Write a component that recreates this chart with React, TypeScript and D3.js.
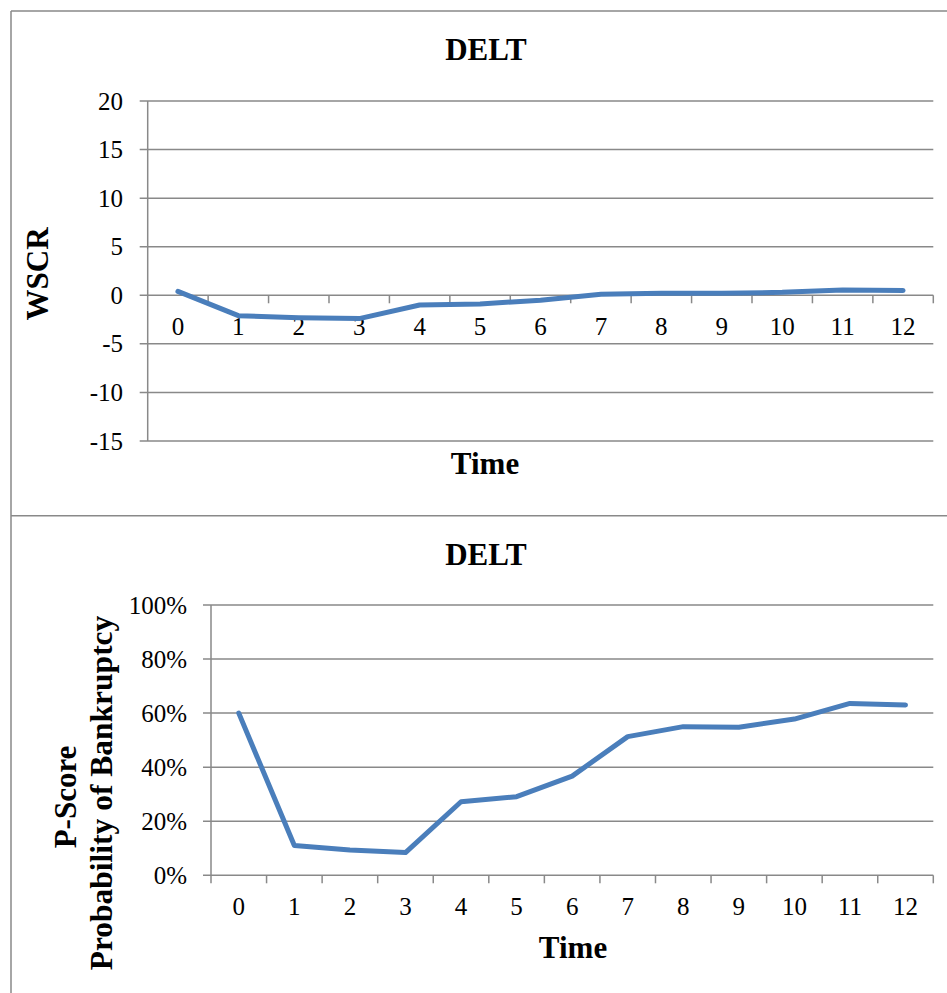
import React from "react";
import * as d3 from "d3";

// Time periods shared by both panels
const periods = ["0", "1", "2", "3", "4", "5", "6", "7", "8", "9", "10", "11", "12"];

// WSCR by period
const wscrValues = [0.4, -2.1, -2.3, -2.4, -1.0, -0.9, -0.5, 0.1, 0.2, 0.2, 0.3, 0.55, 0.5];
const wscrTicks = [20, 15, 10, 5, 0, -5, -10, -15];

// P-Score (probability of bankruptcy) by period
const pScoreValues = [0.60, 0.11, 0.094, 0.084, 0.272, 0.291, 0.367, 0.513, 0.55, 0.548, 0.578, 0.636, 0.63];
const pScoreTicks = [0, 0.2, 0.4, 0.6, 0.8, 1.0];

const FONT = "'Liberation Serif', 'Times New Roman', Times, serif";
const GRID = "#898989";
const LINE = "#4A7EBB";

export default function App() {
  // Top panel scales
  const x1 = d3.scaleBand<string>().domain(periods).range([147.7, 933.3]).padding(0);
  const y1 = d3.scaleLinear().domain([-15, 20]).range([441, 101]);
  const line1 = d3
    .line<number>()
    .x((_, i) => (x1(periods[i]) as number) + x1.bandwidth() / 2)
    .y((d) => y1(d));

  // Bottom panel scales
  const x2 = d3.scaleBand<string>().domain(periods).range([211, 933.3]).padding(0);
  const y2 = d3.scaleLinear().domain([0, 1]).range([875.3, 605]);
  const line2 = d3
    .line<number>()
    .x((_, i) => (x2(periods[i]) as number) + x2.bandwidth() / 2)
    .y((d) => y2(d));

  const pct = d3.format(".0%");
  const [x1a, x1b] = x1.range();
  const [x2a, x2b] = x2.range();

  return (
    <svg
      width={947}
      height={993}
      style={{ position: "absolute", left: 0, top: 0, background: "#fff" }}
      fontFamily={FONT}
    >
      <rect x={0} y={0} width={947} height={993} fill="#fff" />
      {/* Panel frames */}
      <g stroke={GRID} strokeWidth={1.5} fill="none">
        <line x1={11} y1={11} x2={947} y2={11} />
        <line x1={11} y1={11} x2={11} y2={993} />
        <line x1={11} y1={515.7} x2={947} y2={515.7} />
      </g>

      {/* ===== Top panel: WSCR ===== */}
      <text x={486} y={60} textAnchor="middle" fontWeight="bold" fontSize={31}>
        DELT
      </text>
      <g stroke={GRID} strokeWidth={1.5}>
        {wscrTicks.map((t) => (
          <line key={t} x1={x1a - 8} x2={x1b} y1={y1(t)} y2={y1(t)} />
        ))}
        <line x1={x1a} x2={x1a} y1={y1(20)} y2={y1(-15)} />
        {periods.map((p) => (
          <line key={p} x1={(x1(p) as number) + x1.bandwidth()} x2={(x1(p) as number) + x1.bandwidth()} y1={y1(0)} y2={y1(0) + 8} />
        ))}
      </g>
      <g fontSize={25} textAnchor="end">
        {wscrTicks.map((t) => (
          <text key={t} x={123} y={y1(t) + 8.5}>
            {t}
          </text>
        ))}
      </g>
      <g fontSize={25} textAnchor="middle">
        {periods.map((p) => (
          <text key={p} x={(x1(p) as number) + x1.bandwidth() / 2} y={335}>
            {p}
          </text>
        ))}
      </g>
      <path d={line1(wscrValues) ?? ""} fill="none" stroke={LINE} strokeWidth={5} strokeLinecap="round" strokeLinejoin="round" />
      <text x={485} y={474} textAnchor="middle" fontWeight="bold" fontSize={31}>
        Time
      </text>
      <text transform="translate(48,274) rotate(-90)" textAnchor="middle" fontWeight="bold" fontSize={31}>
        WSCR
      </text>

      {/* ===== Bottom panel: P-Score ===== */}
      <text x={486} y={565} textAnchor="middle" fontWeight="bold" fontSize={31}>
        DELT
      </text>
      <g stroke={GRID} strokeWidth={1.5}>
        {pScoreTicks.map((t) => (
          <line key={t} x1={x2a - 8} x2={x2b} y1={y2(t)} y2={y2(t)} />
        ))}
        <line x1={x2a} x2={x2a} y1={y2(1)} y2={y2(0) + 8} />
        {periods.map((p) => (
          <line key={p} x1={(x2(p) as number) + x2.bandwidth()} x2={(x2(p) as number) + x2.bandwidth()} y1={y2(0)} y2={y2(0) + 8} />
        ))}
      </g>
      <g fontSize={25} textAnchor="end">
        {pScoreTicks.map((t) => (
          <text key={t} x={187} y={y2(t) + 8.5}>
            {pct(t)}
          </text>
        ))}
      </g>
      <g fontSize={25} textAnchor="middle">
        {periods.map((p) => (
          <text key={p} x={(x2(p) as number) + x2.bandwidth() / 2} y={915}>
            {p}
          </text>
        ))}
      </g>
      <path d={line2(pScoreValues) ?? ""} fill="none" stroke={LINE} strokeWidth={5} strokeLinecap="round" strokeLinejoin="round" />
      <text x={573} y={958} textAnchor="middle" fontWeight="bold" fontSize={31}>
        Time
      </text>
      <text transform="translate(76,797) rotate(-90)" textAnchor="middle" fontWeight="bold" fontSize={31}>
        P-Score
      </text>
      <text transform="translate(112,793) rotate(-90)" textAnchor="middle" fontWeight="bold" fontSize={31.5}>
        Probability of Bankruptcy
      </text>
    </svg>
  );
}
